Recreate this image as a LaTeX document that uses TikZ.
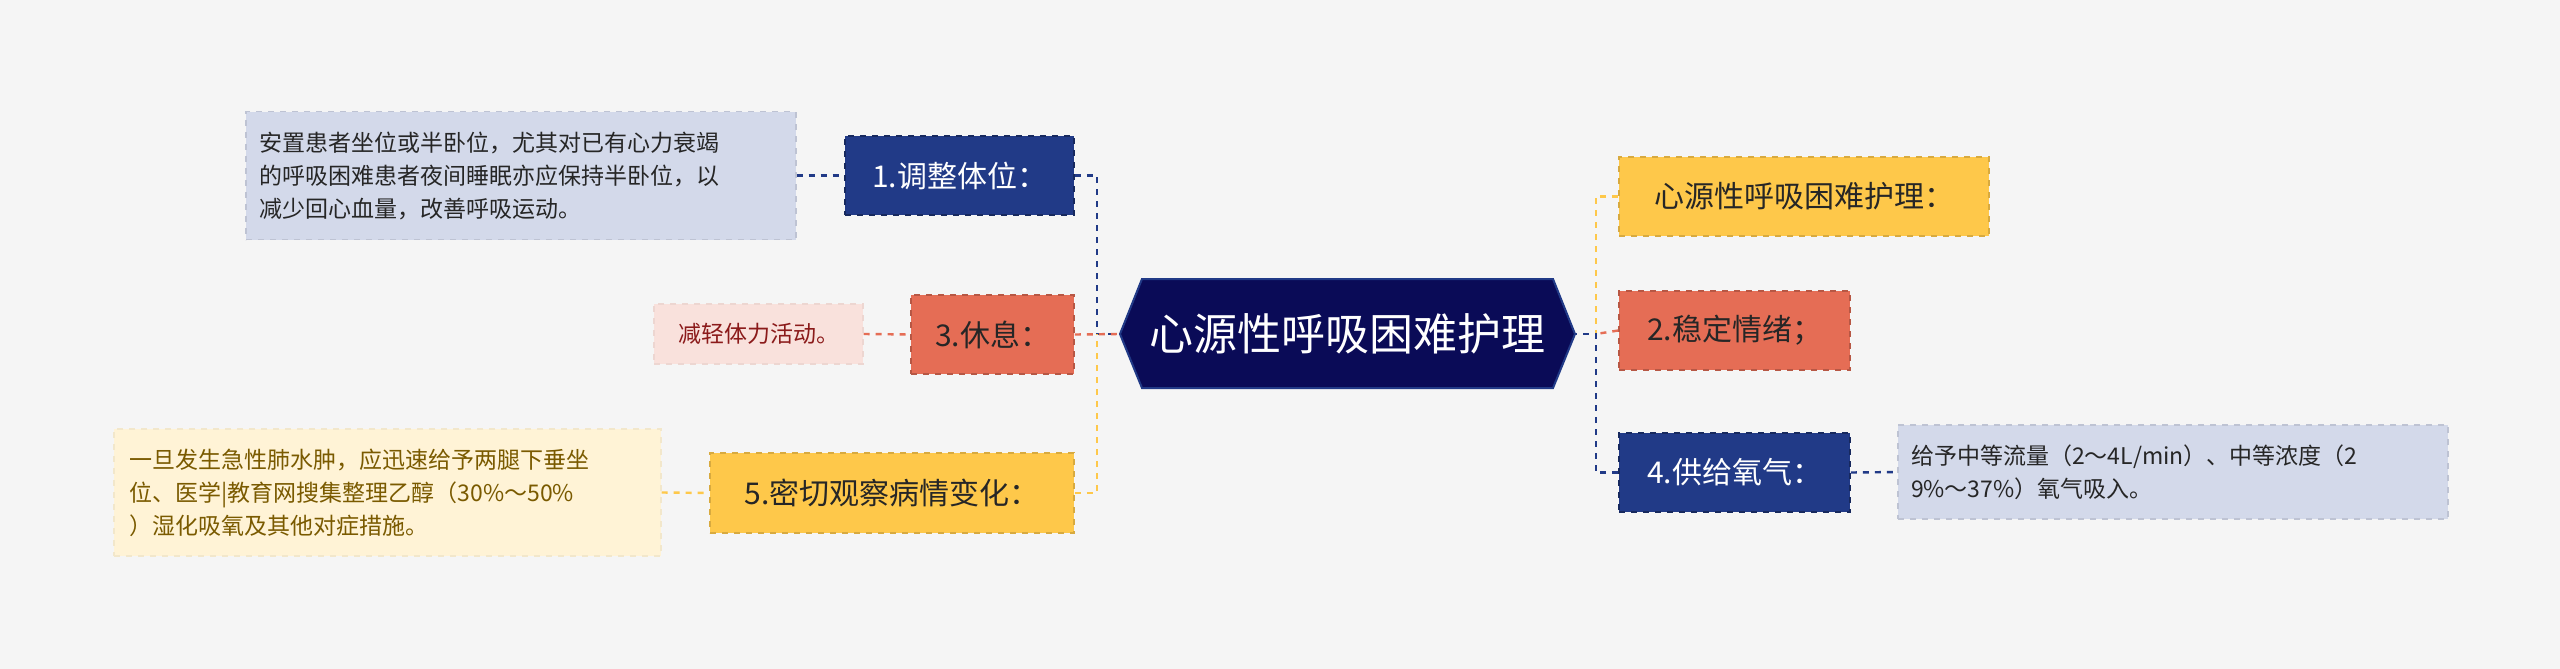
\documentclass[tikz,border=0pt]{standalone}
\usepackage{fontspec}
\setmainfont{Noto Sans CJK SC}
\begin{document}
\begin{tikzpicture}[x=0.5pt,y=-0.5pt,
  box/.style={draw, dashed, line width=0.8pt, inner sep=0pt, font=\fontsize{15}{18}\selectfont},
  leaf/.style={draw, dashed, line width=0.6pt, inner sep=0pt, align=left, font=\fontsize{11.5}{16.5}\selectfont},
  con/.style={dashed, line width=1.2pt}]
\definecolor{bg}{HTML}{F5F5F5}
\definecolor{navy}{HTML}{0A0B57}
\definecolor{cb}{HTML}{213A87}
\definecolor{cr}{HTML}{E56D55}
\definecolor{cy}{HTML}{FEC84A}
\definecolor{lb}{HTML}{D3D9EA}
\definecolor{lp}{HTML}{F9E1DC}
\definecolor{ly}{HTML}{FFF3D6}
\fill[bg] (0,0) rectangle (2560,669);
\useasboundingbox (0,0) rectangle (2560,669);
% center
\fill[navy, draw=cb, line width=1pt] (1120,334) -- (1142,279) -- (1553,279) -- (1575,334) -- (1553,388) -- (1142,388) -- cycle;
\node[font=\fontsize{22}{26}\selectfont, text=white] (c) at (1347,334) {心源性呼吸困难护理};
\coordinate (cw) at (1120,334);
\coordinate (ce) at (1575,334);
\coordinate (tl) at (1097,334);
\coordinate (tr) at (1596,334);
% left main
\node[box, fill=cb, draw=cb!70!black, text=white, minimum width=114.5pt, minimum height=39.5pt] (b1) at (959.5,175.5) {1.调整体位：};
\node[box, fill=cr, draw=cr!80!black, text=black!85, minimum width=81.5pt, minimum height=39.5pt] (b3) at (992.5,334.5) {3.休息：};
\node[box, fill=cy, draw=cy!85!black, text=black!85, minimum width=182pt, minimum height=40pt] (b5) at (892,493) {5.密切观察病情变化：};
% left leaves
\node[leaf, fill=lb, draw=lb!90!black, text=black!85, minimum width=275pt, minimum height=64pt, text width=262pt] (l1) at (521,175.5) {安置患者坐位或半卧位，尤其对已有心力衰竭\\的呼吸困难患者夜间睡眠亦应保持半卧位，以\\减少回心血量，改善呼吸运动。};
\node[leaf, fill=lp, draw=lp!95!black, text={rgb,255:red,139;green,26;blue,26}, minimum width=104.5pt, minimum height=30pt, align=center] (l3) at (758.5,334) {减轻体力活动。};
\node[leaf, fill=ly, draw=ly!95!black, text={rgb,255:red,122;green,90;blue,0}, minimum width=273.5pt, minimum height=63.5pt, text width=258pt] (l5) at (387.5,492.5) {一旦发生急性肺水肿，应迅速给予两腿下垂坐\\位、医学|教育网搜集整理乙醇（30\%～50\%\\）湿化吸氧及其他对症措施。};
% right main
\node[box, fill=cy, draw=cy!85!black, text=black!85, minimum width=185pt, minimum height=39.5pt] (r1) at (1804,196.5) {心源性呼吸困难护理：};
\node[box, fill=cr, draw=cr!80!black, text=black!85, minimum width=115.5pt, minimum height=39.5pt] (r2) at (1734.5,330.5) {2.稳定情绪；};
\node[box, fill=cb, draw=cb!70!black, text=white, minimum width=115.5pt, minimum height=39.5pt] (r4) at (1734.5,472.5) {4.供给氧气：};
\node[leaf, fill=lb, draw=lb!90!black, text=black!85, minimum width=275pt, minimum height=47pt, text width=262pt] (l4) at (2173,472) {给予中等流量（2～4L/min）、中等浓度（2\\9\%～37\%）氧气吸入。};
% connectors
\draw[con, cb] (b1.east) -| (tl) -- (cw);
\draw[con, cr] (b3.east) -- (cw);
\draw[con, cy] (b5.east) -| (tl);
\draw[con, cb] (l1.east) -- (b1.west);
\draw[con, cr] (l3.east) -- (b3.west);
\draw[con, cy] (l5.east) -- (b5.west);
\draw[con, cy] (r1.west) -| (tr);
\draw[con, cr] (r2.west) -- (tr);
\draw[con, cb] (r4.west) -| (tr) -- (ce);
\draw[con, cb] (r4.east) -- (l4.west);
\end{tikzpicture}
\end{document}
